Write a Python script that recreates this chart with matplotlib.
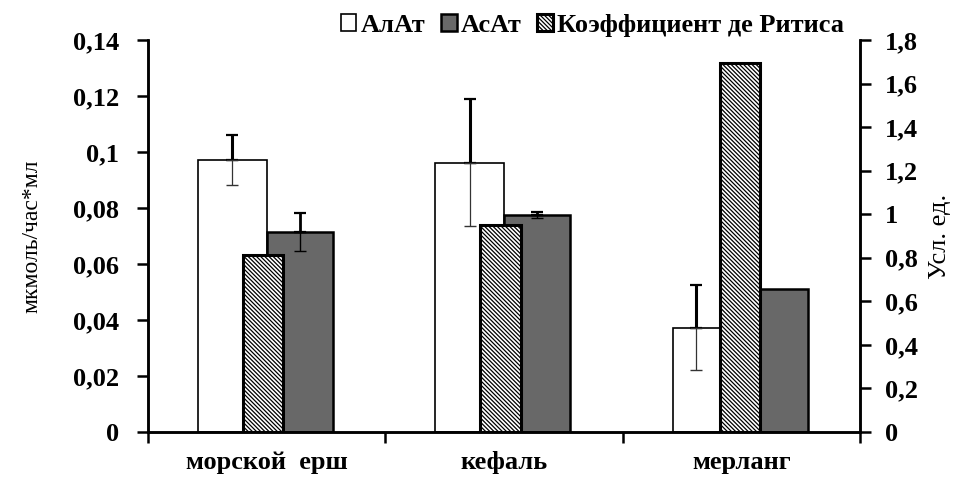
import numpy as np
import matplotlib
matplotlib.use('Agg')
import matplotlib.pyplot as plt

# data
categories = ['морской  ерш', 'кефаль', 'мерланг']
alat = [0.0971, 0.0962, 0.0373]
alat_err = [0.0090, 0.0228, 0.0153]
asat = [0.0715, 0.0775, 0.0510]
asat_err = [0.0067, 0.0012, 0.0]
ritis = [0.813, 0.950, 1.693]

# bar edges relative to category centre (fraction of category width)
alat_l = [-0.29, -0.29, -0.29]
alat_r = [0.0, 0.0, -0.088]
asat_l = [0.0, 0.0, 0.08]
asat_r = [0.28, 0.28, 0.28]
rit_l = [-0.10, -0.10, -0.088]
rit_r = [0.07, 0.07, 0.08]

plt.rcParams['font.family'] = ['Liberation Serif', 'DejaVu Serif']
plt.rcParams['hatch.color'] = '#777777'
plt.rcParams['hatch.linewidth'] = 0.9

fig = plt.figure(figsize=(9.62, 4.82), dpi=100)
ax = fig.add_axes([148/962, 1-432/482, 712/962, 392/482])
ax2 = ax.twinx()

x = np.arange(len(categories))
xa = x + np.array(alat_l)
xs = x + np.array(asat_l)
xr = x + np.array(rit_l)

b1 = ax.bar(xa, alat, width=np.array(alat_r) - np.array(alat_l), align='edge',
            color='white', edgecolor='black', linewidth=1.2, label='АлАт', zorder=2)
b2 = ax.bar(xs, asat, width=np.array(asat_r) - np.array(asat_l), align='edge',
            color='#686868', edgecolor='black', linewidth=1.8, label='АсАт', zorder=2)

# error bars: upper half heavier, lower half thin (as in the original)
ca = x + (np.array(alat_l) + np.array(alat_r)) / 2
cs = x + (np.array(asat_l) + np.array(asat_r)) / 2
z = np.zeros(3)
ax.errorbar(ca, alat, yerr=[z, alat_err], fmt='none', ecolor='black',
            elinewidth=2.2, capsize=4.5, capthick=1.6, zorder=3)
ax.errorbar(ca, alat, yerr=[alat_err, z], fmt='none', ecolor='#333333',
            elinewidth=0.9, capsize=4.5, capthick=1.0, zorder=3)
m = np.array(asat_err) > 0
ax.errorbar(cs[m], np.array(asat)[m], yerr=[z[m], np.array(asat_err)[m]], fmt='none',
            ecolor='black', elinewidth=2.0, capsize=4.5, capthick=1.6, zorder=3)
ax.errorbar(cs[m], np.array(asat)[m], yerr=[np.array(asat_err)[m], z[m]], fmt='none',
            ecolor='black', elinewidth=1.0, capsize=4.5, capthick=1.0, zorder=3)

b3 = ax2.bar(xr, ritis, width=np.array(rit_r) - np.array(rit_l), align='edge',
             color='white', edgecolor='black', linewidth=2.2, hatch='\\' * 8,
             label='Коэффициент де Ритиса', zorder=2)

ax.set_xlim(-0.5, 2.5)
ax.set_ylim(0, 0.14)
ax2.set_ylim(0, 1.8)

lt = np.arange(0, 0.141, 0.02)
ax.set_yticks(lt)
ax.set_yticklabels([('%g' % round(v, 2)).replace('.', ',') for v in lt])
rt = np.arange(0, 1.81, 0.2)
ax2.set_yticks(rt)
ax2.set_yticklabels([('%g' % round(v, 1)).replace('.', ',') for v in rt])

ax.set_xticks(x)
ax.set_xticklabels(categories)
ax.set_xticks(np.arange(-0.5, 2.6, 1), minor=True)
ax.tick_params(axis='x', which='major', length=0, pad=14)
ax.tick_params(axis='x', which='minor', length=8, width=1.8, direction='out')

for a in (ax, ax2):
    a.spines['top'].set_visible(False)
    for s in ('left', 'right', 'bottom'):
        a.spines[s].set_linewidth(1.8)
ax.tick_params(axis='y', length=8, width=1.8, direction='out', pad=13)
ax2.tick_params(axis='y', length=8, width=1.8, direction='out', pad=10)

for lab in ax.get_xticklabels() + ax.get_yticklabels() + ax2.get_yticklabels():
    lab.set_fontsize(19)
    lab.set_fontweight('bold')

ax.set_ylabel('мкмоль/час*мл', fontsize=17, labelpad=22)
ax2.set_ylabel('Усл. ед.', fontsize=19, labelpad=8)

fig.legend(handles=[b1, b2, b3], loc='upper right', bbox_to_anchor=(868/962, 1.02),
           ncol=3, frameon=False, handlelength=0.6, handleheight=0.6,
           handletextpad=0.15, columnspacing=0.6,
           prop={'size': 19, 'weight': 'bold'})

fig.savefig('out.png', dpi=100)
